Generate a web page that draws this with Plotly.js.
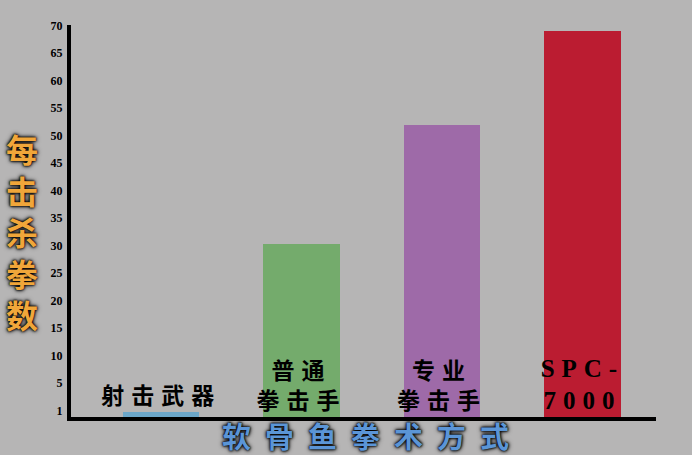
<!DOCTYPE html>
<html>
<head>
<meta charset="utf-8">
<script src="https://cdn.plot.ly/plotly-3.0.1.min.js"></script>
<style>
  body { margin: 0; background: #b6b5b5; }
  #chart { width: 692px; height: 455px; }
  text.bartext { letter-spacing: 7px; }
  g.annotation[data-index="1"] text { letter-spacing: 14px; }
</style>
</head>
<body>
<div id="chart"></div>
<script>
// 软骨鱼拳术方式 vs 每击杀拳数
var methods = ['射击武器', '普通拳击手', '专业拳击手', 'SPC-7000'];
var barLabels = ['射击武器', '普通<br>拳击手', '专业<br>拳击手', 'SPC-<br>7000'];
// bar heights
var punchesPerKill = [1, 31.5, 53.2, 70.3];
var barColors = ['#6ca7c9', '#74ab6c', '#9e6aa8', '#bb1c31'];

var yTickVals = [0, 5, 10, 15, 20, 25, 30, 35, 40, 45, 50, 55, 60, 65, 70];
var yTickText = ['1', '5', '10', '15', '20', '25', '30', '35', '40', '45', '50', '55', '60', '65', '70'];

var bgColor = '#b6b5b5';

var bars = {
	type: 'bar',
	x: methods,
	y: punchesPerKill,
	base: -1.2,
	width: 0.546,
	marker: { color: barColors, line: { width: 0 } },
	text: barLabels,
	texttemplate: '%{text}',
	textposition: ['outside', 'inside', 'inside', 'inside'],
	insidetextanchor: 'start',
	textangle: 0,
	constraintext: 'none',
	cliponaxis: false,
	textfont: {
		family: 'Liberation Serif, Noto Sans CJK SC, serif',
		size: [23, 23, 23, 25],
		color: '#000',
		weight: 'bold'
	},
	hoverinfo: 'x+y'
};

var layout = {
	width: 692,
	height: 455,
	paper_bgcolor: bgColor,
	plot_bgcolor: bgColor,
	margin: { l: 71, r: 36, t: 25, b: 38 },
	showlegend: false,
	bargap: 0,
	xaxis: {
		type: 'category',
		range: [-0.642, 3.524],
		showline: true,
		linewidth: 4,
		linecolor: '#000',
		showticklabels: false,
		showgrid: false,
		zeroline: false,
		ticks: ''
	},
	yaxis: {
		range: [-1.2, 70.1],
		showline: true,
		linewidth: 4,
		linecolor: '#000',
		tickvals: yTickVals,
		ticktext: yTickText,
		tickfont: { family: 'Liberation Serif, serif', size: 12, color: '#000', weight: 'bold' },
		ticklabelstandoff: 2,
		showgrid: false,
		zeroline: false,
		ticks: ''
	},
	annotations: [
		{
			text: '每<br>击<br>杀<br>拳<br>数',
			xref: 'paper', yref: 'paper',
			x: -0.083, y: 0.475,
			xanchor: 'center', yanchor: 'middle',
			showarrow: false,
			font: {
				family: 'Noto Sans CJK SC',
				size: 32,
				color: '#f0a63a',
				weight: 'bold',
				shadow: '0 0 3px #000, 0 0 5px #000, 0 0 2px #000'
			}
		},
		{
			text: '软骨鱼拳术方式',
			xref: 'paper', yref: 'paper',
			x: 0.515, y: -0.047,
			xanchor: 'center', yanchor: 'middle',
			showarrow: false,
			font: {
				family: 'Noto Sans CJK SC',
				size: 29,
				color: '#5b95d6',
				weight: 'bold',
				shadow: '0 0 3px #000, 0 0 5px #000, 0 0 2px #000'
			}
		}
	]
};

Plotly.newPlot('chart', [bars], layout, { displayModeBar: false, staticPlot: true });
</script>
</body>
</html>
